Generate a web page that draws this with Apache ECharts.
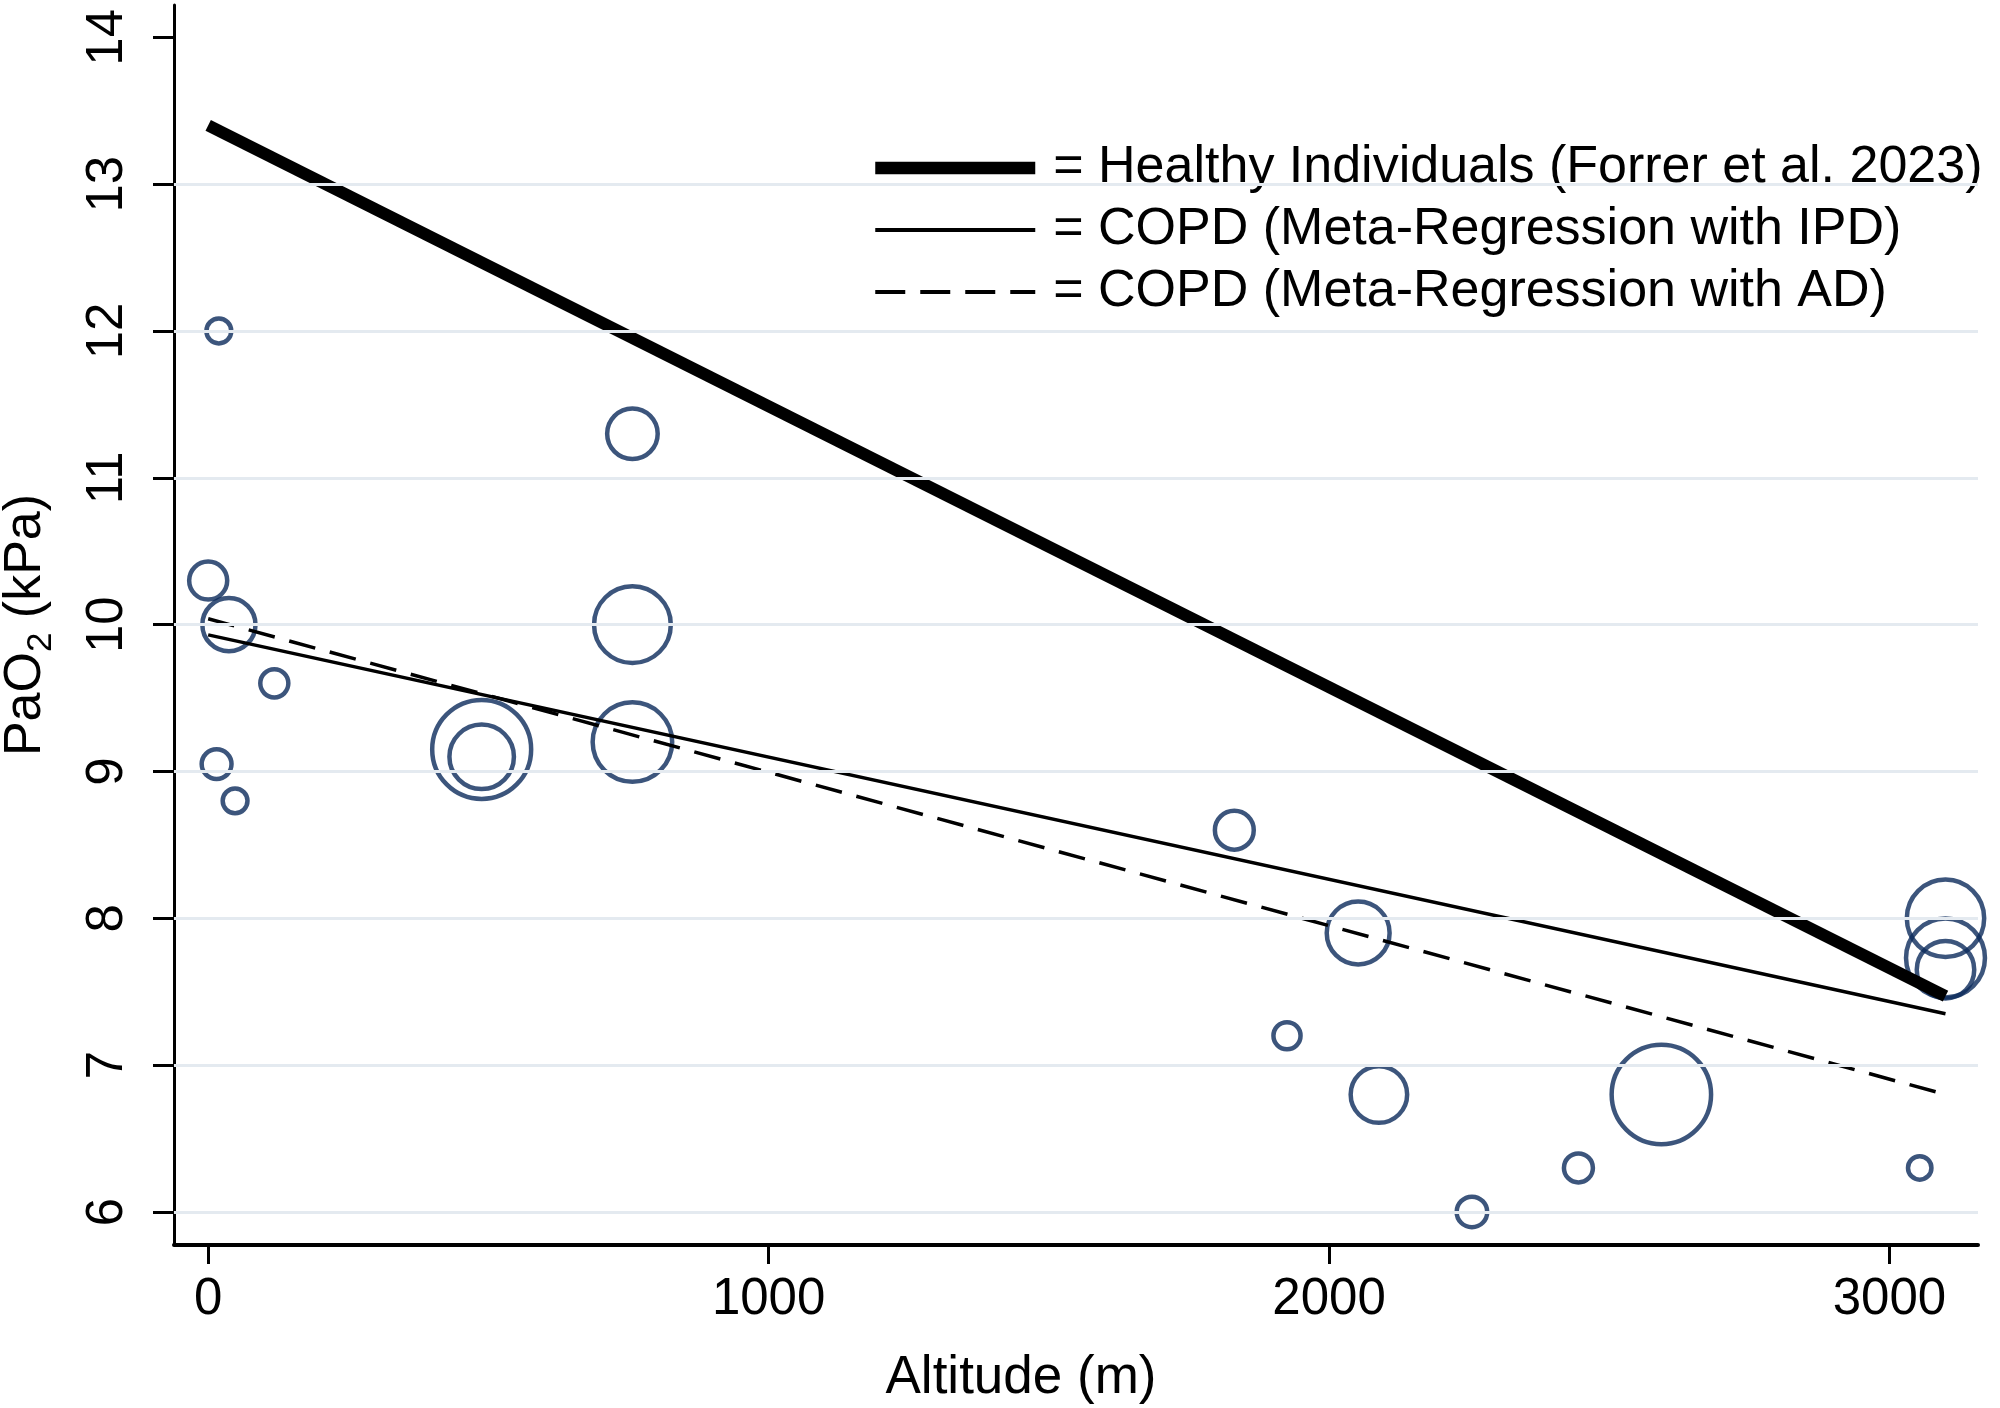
<!DOCTYPE html>
<html><head><meta charset="utf-8">
<script src="https://cdn.jsdelivr.net/npm/echarts@6/dist/echarts.min.js"></script>
<style>html,body{margin:0;padding:0;background:#fff}#c{width:2000px;height:1408px}</style>
</head><body><div id="c"></div>
<script>
// ---- data ----
const altitude = [19, 0, 37, 118, 15, 48, 488, 488, 757, 757, 757, 1831, 2052, 1925, 2089, 2593, 2255, 2445, 3054, 3100, 3100, 3100];
const pao2 = [12.0, 10.3, 10.0, 9.6, 9.05, 8.8, 9.15, 9.1, 11.3, 10.0, 9.2, 8.6, 7.9, 7.2, 6.8, 6.8, 6.0, 6.3, 6.3, 8.0, 7.73, 7.65];
const studyWeight = [8.6, 18.1, 33.2, 10.6, 11.8, 8.6, 107, 47.6, 30.3, 66, 70.6, 18.8, 45.4, 10, 37.2, 108, 12.3, 11.2, 7.8, 67, 69.6, 38.4];
const lineAltitude = [0, 3100];
const healthyPaO2 = [13.40, 7.47];
const ipdPaO2 = [9.93, 7.35];
const adPaO2 = [10.04, 6.80];
const xTicks = [0, 1000, 2000, 3000];
const yTicks = [6, 7, 8, 9, 10, 11, 12, 13, 14];
const yGrid = [6, 7, 8, 9, 10, 11, 12, 13];
const names = ['Healthy Individuals (Forrer et al. 2023)', 'COPD (Meta-Regression with IPD)', 'COPD (Meta-Regression with AD)'];

const FONT = "'Liberation Sans', Arial, sans-serif";
const chart = echarts.init(document.getElementById('c'), null, {renderer: 'canvas'});
const pts = altitude.map((x, i) => [x, pao2[i]]);
const mkLine = arr => lineAltitude.map((x, i) => [x, arr[i]]);

chart.setOption({
  animation: false,
  backgroundColor: '#fff',
  grid: {left: 174, right: 22, top: 5, bottom: 163, containLabel: false, outerBoundsMode: 'none'},
  legend: {
    data: [
      {name: names[0], lineStyle: {width: 12.5, type: 'solid', color: '#000'}},
      {name: names[1], lineStyle: {width: 4, type: 'solid', color: '#000'}},
      {name: names[2], lineStyle: {width: 4, type: [30, 15], color: '#000'}}
    ],
    orient: 'vertical', left: 864, top: 134,
    itemWidth: 160, itemHeight: 50, itemGap: 4, selectedMode: false,
    itemStyle: {color: 'rgba(0,0,0,0)', borderWidth: 0, opacity: 0},
    formatter: n => '= ' + n,
    textStyle: {fontSize: 52, color: '#000', fontFamily: FONT, padding: [0, 0, 18, 13], lineHeight: 40}
  },
  xAxis: {
    type: 'value', min: -61, max: 3158,
    name: 'Altitude (m)', nameLocation: 'middle', nameGap: 107,
    nameTextStyle: {fontSize: 53, color: '#000', fontFamily: FONT, padding: [0, 110, 0, 0]},
    axisLine: {show: true, onZero: false, lineStyle: {color: '#000', width: 4}},
    axisTick: {show: true, customValues: xTicks, length: 19, lineStyle: {color: '#000', width: 3}},
    axisLabel: {customValues: xTicks, fontSize: 51, color: '#000', fontFamily: FONT, margin: 29,
      formatter: v => String(v)},
    splitLine: {show: false}
  },
  yAxis: {
    type: 'value', min: 5.775, max: 14.22,
    name: '{n|PaO}{s|2}{n| (kPa)}', nameLocation: 'middle', nameGap: 115, nameRotate: 90,
    nameTextStyle: {
      rich: {
        n: {fontSize: 52, color: '#000', fontFamily: FONT, lineHeight: 66},
        s: {fontSize: 35, color: '#000', fontFamily: FONT, lineHeight: 34, verticalAlign: 'bottom'}
      }
    },
    axisLine: {show: true, onZero: false, lineStyle: {color: '#000', width: 3}},
    axisTick: {show: true, customValues: yTicks, length: 21, lineStyle: {color: '#000', width: 3}},
    axisLabel: {customValues: yTicks, rotate: 90, fontSize: 51, color: '#000', fontFamily: FONT, margin: 41},
    splitLine: {show: false}
  },
  series: [
    {
      type: 'line', name: 'grid', data: [], z: 1, silent: true,
      markLine: {
        silent: true, symbol: 'none', label: {show: false},
        lineStyle: {color: '#e4eaf0', width: 3, type: 'solid'},
        data: yGrid.map(v => ({yAxis: v}))
      }
    },
    {
      type: 'scatter', name: 'studies', data: pts, z: 2,
      symbol: 'circle',
      symbolSize: (v, p) => 10 * Math.sqrt(studyWeight[p.dataIndex]) - 4.5,
      itemStyle: {color: 'rgba(0,0,0,0)', borderColor: '#0b2b5b', borderWidth: 4.5}
    },
    {
      type: 'line', name: names[0], data: mkLine(healthyPaO2), z: 3,
      symbol: 'none', showSymbol: false, lineStyle: {color: '#000', width: 12}, itemStyle: {color: '#000'}
    },
    {
      type: 'line', name: names[1], data: mkLine(ipdPaO2), z: 3,
      symbol: 'none', showSymbol: false, lineStyle: {color: '#000', width: 3.5}, itemStyle: {color: '#000'}
    },
    {
      type: 'line', name: names[2], data: mkLine(adPaO2), z: 3,
      symbol: 'none', showSymbol: false, lineStyle: {color: '#000', width: 3.5, type: [27, 15]}, itemStyle: {color: '#000'}
    }
  ]
});
</script>
</body></html>
